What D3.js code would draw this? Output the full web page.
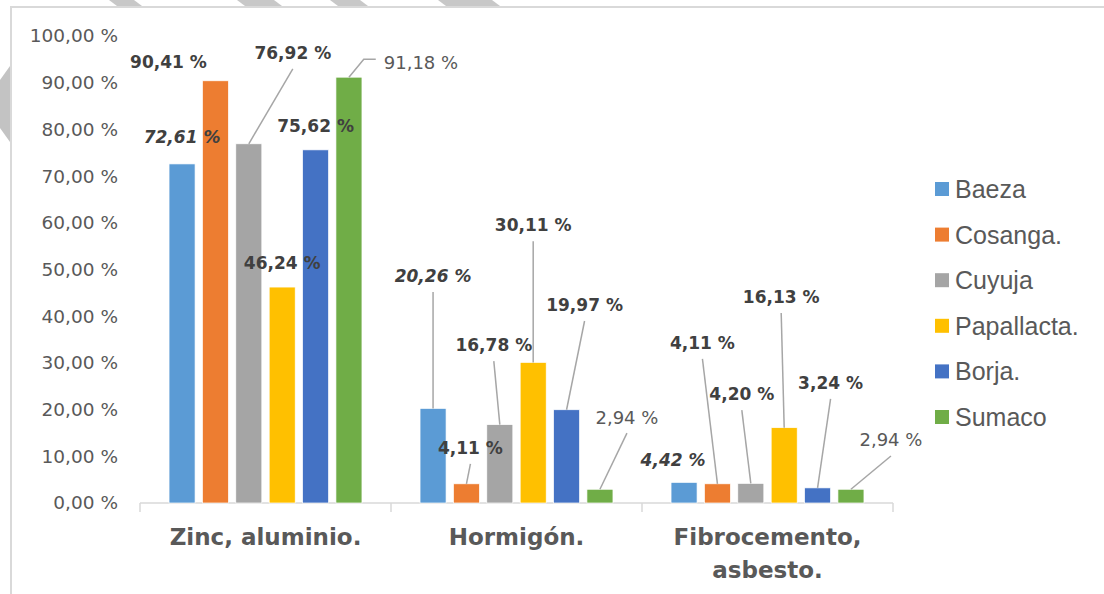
<!DOCTYPE html>
<html><head><meta charset="utf-8">
<script src="https://cdn.jsdelivr.net/npm/d3@7"></script>
<style>body{margin:0;background:#fff}svg{display:block}</style>
</head><body>
<svg id="chart" width="1104" height="594"></svg>
<script>
// ---- data ----
const categories = ["Zinc, aluminio.", "Hormigón.", "Fibrocemento, asbesto."];
const seriesNames = ["Baeza", "Cosanga.", "Cuyuja", "Papallacta.", "Borja.", "Sumaco"];
const baeza      = [72.61, 20.26, 4.42];
const cosanga    = [90.41, 4.11, 4.11];
const cuyuja     = [76.92, 16.78, 4.20];
const papallacta = [46.24, 30.11, 16.13];
const borja      = [75.62, 19.97, 3.24];
const sumaco     = [91.18, 2.94, 2.94];
const yTicks = [0, 10, 20, 30, 40, 50, 60, 70, 80, 90, 100];

// ---- layout (label placement: [dx px from bar centre, label height in % units, leader]) ----
const labelPlacement = [
  // Zinc
  [[0,78.4,"none"],[-47,94.4,"none"],[44,96.4,"below"],[0,51.4,"none"],[0,80.7,"none"],[72,94.4,"side"]],
  // Hormigón
  [[0,48.6,"below"],[4,11.8,"below"],[-6,33.8,"below"],[0,59.5,"below"],[18,42.4,"below"],[27,18.4,"below"]],
  // Fibrocemento
  [[-11,9.2,"none"],[-15,34.3,"below"],[-9,23.3,"below"],[-3,44.1,"below"],[13,25.7,"below"],[40,13.5,"below"]]
];
const colors = ["#5b9bd5", "#ed7d31", "#a5a5a5", "#ffc000", "#4472c4", "#70ad47"];

const values = [baeza, cosanga, cuyuja, papallacta, borja, sumaco];
const svg = d3.select("#chart");

const fmt = v => d3.format(".2f")(v).replace(".", ",") + " %";

// decorative frame
svg.append("path").attr("d", "M1104,7 H11 V594").attr("fill", "none")
  .attr("stroke", "#d9d9d9").attr("stroke-width", 2);
svg.append("polygon").attr("points", "10,66 0,80 0,128 10,142").attr("fill", "#c3c3c3");
[[109,142],[237,282],[330,368],[438,500]].forEach(([a,b]) => {
  svg.append("polygon").attr("points", `${a},0 ${b-8},0 ${b},6 ${a+8},6`).attr("fill", "#c8c8c8");
});

const x0 = d3.scaleBand().domain(categories).range([140, 893]).padding(0);
const x1 = d3.scaleBand().domain(seriesNames).range([0, x0.bandwidth()])
  .paddingInner(0.22).paddingOuter(0.87);
const y = d3.scaleLinear().domain([0, 100]).range([503, 36]);

// y axis labels
const yAxis = d3.axisLeft(y).tickValues(yTicks).tickFormat(fmt).tickSize(0).tickPadding(0);
const ya = svg.append("g").attr("transform", "translate(118,0)").call(yAxis);
ya.select(".domain").remove();
ya.selectAll("text").attr("font-family", "DejaVu Sans").attr("font-size", 18.5)
  .attr("fill", "#595959");

// x axis line + ticks
const xa = svg.append("g");
xa.append("line").attr("x1", x0.range()[0]).attr("x2", x0.range()[1])
  .attr("y1", y(0)).attr("y2", y(0)).attr("stroke", "#d9d9d9").attr("stroke-width", 1.5);
const bounds = categories.map(c => x0(c)).concat([x0.range()[1]]);
xa.selectAll("line.tk").data(bounds).join("line").attr("class", "tk")
  .attr("x1", d => d).attr("x2", d => d).attr("y1", y(0)).attr("y2", y(0) + 9)
  .attr("stroke", "#d9d9d9").attr("stroke-width", 1.5);

// category labels
categories.forEach(c => {
  const lines = c.length > 16 ? c.split(/(?<=,) /) : [c];
  const t = svg.append("text").attr("x", x0(c) + x0.bandwidth() / 2).attr("y", 545)
    .attr("text-anchor", "middle").attr("font-family", "DejaVu Sans")
    .attr("font-weight", "bold").attr("font-size", 23).attr("fill", "#595959");
  lines.forEach((l, i) => t.append("tspan").attr("x", x0(c) + x0.bandwidth() / 2)
    .attr("dy", i === 0 ? 0 : 33).text(l));
});

// bars
const cells = [];
categories.forEach((c, ci) => seriesNames.forEach((s, si) => {
  cells.push({c, ci, s, si, v: values[si][ci], p: labelPlacement[ci][si]});
}));
svg.append("g").selectAll("rect").data(cells).join("rect")
  .attr("x", d => x0(d.c) + x1(d.s)).attr("width", x1.bandwidth())
  .attr("y", d => y(d.v)).attr("height", d => y(0) - y(d.v))
  .attr("fill", d => colors[d.si]).attr("stroke", "#fff").attr("stroke-width", 0.7);

// data labels
const lg = svg.append("g");
cells.forEach(d => {
  const cx = x0(d.c) + x1(d.s) + x1.bandwidth() / 2;
  const lx = cx + d.p[0], ly = y(d.p[1]);
  const plain = d.si === 5;
  const t = lg.append("text").attr("x", lx).attr("y", ly).attr("dy", "0.36em")
    .attr("text-anchor", "middle").attr("font-family", "DejaVu Sans")
    .attr("font-size", plain ? 18 : 17)
    .attr("font-weight", plain ? "normal" : "bold")
    .attr("font-style", d.si === 0 ? "italic" : "normal")
    .attr("fill", plain ? "#595959" : "#404040").text(fmt(d.v));
  const w = t.node().getComputedTextLength();
  if (d.p[2] === "below") {
    lg.append("line").attr("x1", lx).attr("y1", ly + 16).attr("x2", cx).attr("y2", y(d.v))
      .attr("stroke", "#a6a6a6").attr("stroke-width", 1.5);
  } else if (d.p[2] === "side") {
    const ex = lx - w / 2 - 8, ey = ly - 3;
    lg.append("polyline").attr("points", `${cx},${y(d.v)} ${ex - 12},${ey} ${ex},${ey}`)
      .attr("fill", "none").attr("stroke", "#a6a6a6").attr("stroke-width", 1.5);
  }
});

// legend
const leg = svg.append("g").attr("transform", "translate(935,189)");
seriesNames.forEach((s, i) => {
  const g = leg.append("g").attr("transform", `translate(0,${i * 45.6})`);
  g.append("rect").attr("x", 0).attr("y", -7).attr("width", 14).attr("height", 14).attr("fill", colors[i]);
  g.append("text").attr("x", 20).attr("y", 0).attr("dy", "0.36em")
    .attr("font-family", "Liberation Sans").attr("font-size", 25).attr("fill", "#595959").text(s);
});
</script>
</body></html>
